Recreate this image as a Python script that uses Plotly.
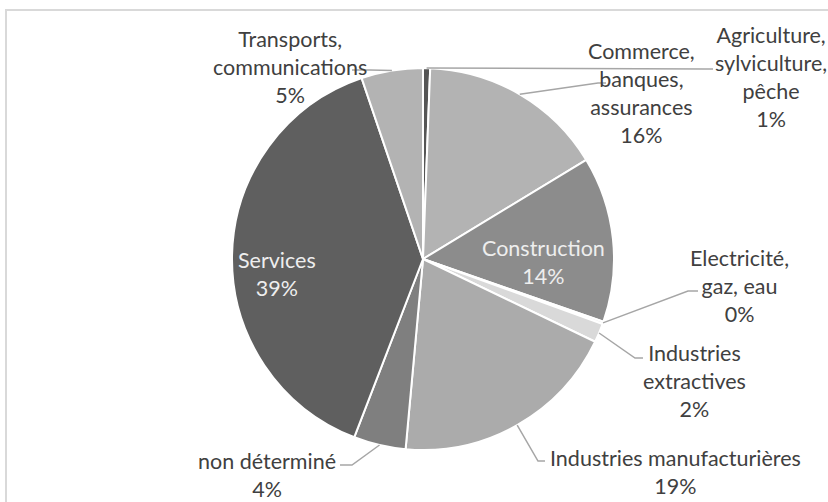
import math
import plotly.graph_objects as go

# Répartition par secteur d'activité (parts en %)
categories = [
    "Agriculture, sylviculture, pêche",
    "Commerce, banques, assurances",
    "Construction",
    "Electricité, gaz, eau",
    "Industries extractives",
    "Industries manufacturières",
    "non déterminé",
    "Services",
    "Transports, communications",
]
values = [0.6, 15.7, 14.0, 0.2, 1.6, 19.3, 4.4, 38.9, 5.2]
label_lines = [
    "Agriculture,<br>sylviculture,<br>pêche",
    "Commerce,<br>banques,<br>assurances",
    "Construction",
    "Electricité,<br>gaz, eau",
    "Industries<br>extractives",
    "Industries manufacturières",
    "non déterminé",
    "Services",
    "Transports,<br>communications",
]
colors = ["#555555", "#b3b3b3", "#8c8c8c", "#d4d4d4", "#d9d9d9",
          "#ababab", "#7f7f7f", "#5f5f5f", "#b3b3b3"]

W, H = 828, 502
CX, CY, R = 423, 259, 191          # pie centre and radius in pixels
FONT = "Lato"
FONT_SIZE = 21.5
TEXT_COLOR = "#404040"

# label block centres (px) and leader elbow / end points (px); None = label inside
label_pos = [(771, 77), (641, 93), (543, 262), (739, 286), (694, 381),
             (675, 472), (267, 475), (277, 274), (290, 67)]
leader_pts = [
    [(705, 69), (713, 69)],
    [(598, 83), (606, 83)],
    None,
    [(688, 291), (698, 291)],
    [(635, 358), (643, 358)],
    [(538, 461), (545, 461)],
    [(352, 465), (340, 465)],
    None,
    [(370, 70), (352, 70)],
]
inside = [False, False, True, False, False, False, False, True, False]


def px(x, y):
    return x / W, 1 - y / H


fig = go.Figure(go.Pie(
    labels=categories,
    values=values,
    sort=False,
    direction="clockwise",
    rotation=0,
    textinfo="none",
    hoverinfo="skip",
    marker=dict(colors=colors, line=dict(color="white", width=2)),
    domain=dict(x=[(CX - R) / W, (CX + R) / W], y=[1 - (CY + R) / H, 1 - (CY - R) / H]),
    showlegend=False,
))

total = sum(values)
shapes = [
    # chart area frame (right and bottom edges fall outside the page)
    dict(type="rect", xref="paper", yref="paper",
         x0=6 / W, x1=1.2, y0=-0.2, y1=1 - 10 / H,
         line=dict(color="#d9d9d9", width=2), layer="below"),
]
annotations = []
cum = 0.0
for i, v in enumerate(values):
    frac_mid = (cum + v / 2) / total
    cum += v
    ang = 2 * math.pi * frac_mid
    ex, ey = CX + R * math.sin(ang), CY - R * math.cos(ang)
    pct = int(v / total * 100 + 0.5)
    lx, ly = label_pos[i]
    ax, ay = px(lx, ly)
    annotations.append(dict(
        x=ax, y=ay, xref="paper", yref="paper", showarrow=False,
        xanchor="center", yanchor="middle", align="center",
        text=f"{label_lines[i]}<br>{pct}%",
        font=dict(family=FONT, size=FONT_SIZE,
                  color="#eeeeee" if inside[i] else TEXT_COLOR),
    ))
    if leader_pts[i]:
        pts = [(ex, ey)] + leader_pts[i]
        path = "M " + " L ".join(f"{px(x, y)[0]:.5f},{px(x, y)[1]:.5f}" for x, y in pts)
        shapes.append(dict(type="path", xref="paper", yref="paper", path=path,
                           line=dict(color="#a6a6a6", width=1.5)))

fig.update_layout(
    width=W, height=H,
    margin=dict(l=0, r=0, t=0, b=0),
    paper_bgcolor="white",
    plot_bgcolor="white",
    shapes=shapes,
    annotations=annotations,
)

fig.write_html("out.html")
